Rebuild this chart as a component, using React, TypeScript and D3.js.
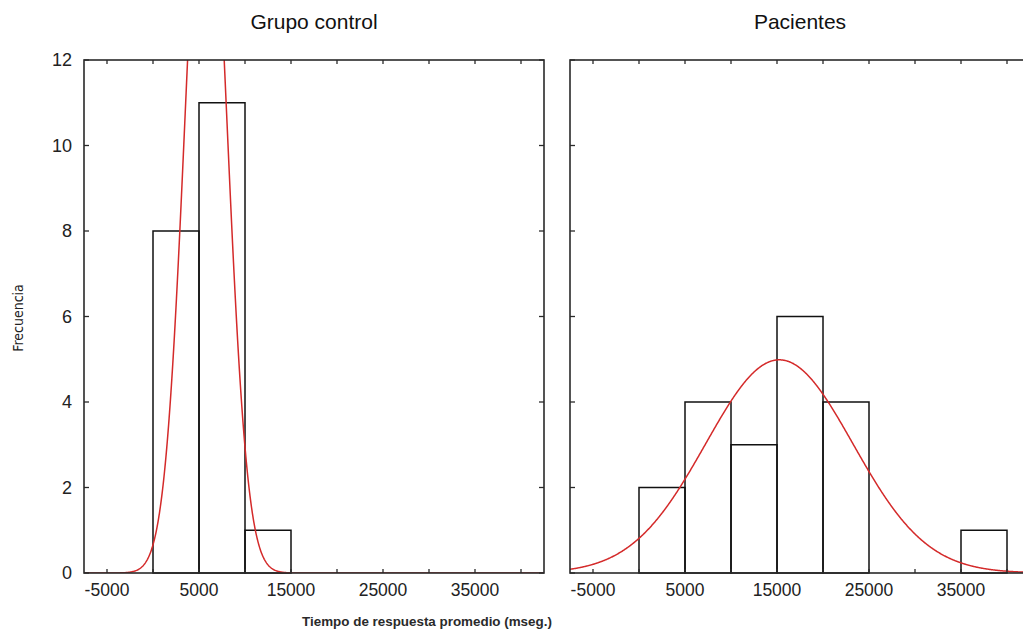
import React from "react";
import * as d3 from "d3";

const W = 1023;
const H = 639;

const binStarts = [0, 5000, 10000, 15000, 20000, 25000, 30000, 35000];
const binWidth = 5000;
const controlCounts = [8, 11, 1, 0, 0, 0, 0, 0];
const patientCounts = [2, 4, 3, 6, 4, 0, 0, 1];
const controlMean = 5750;
const controlSd = 2240;
const patientMean = 15250;
const patientSd = 8000;
const nPerGroup = 20;

const xTickValues = [-5000, 0, 5000, 10000, 15000, 20000, 25000, 30000, 35000, 40000];
const xLabelValues = [-5000, 5000, 15000, 25000, 35000];
const yTickValues = [0, 2, 4, 6, 8, 10, 12];

const titles = ["Grupo control", "Pacientes"];
const xTitle = "Tiempo de respuesta promedio (mseg.)";
const yTitle = "Frecuencia";

const panelLefts = [84, 570];
const panelWidth = 460;
const top = 60;
const bottom = 573;
const FONT = "Liberation Sans, Arial, sans-serif";

function Panel({ idx, counts, mean, sd }: { idx: number; counts: number[]; mean: number; sd: number }) {
  const left = panelLefts[idx];
  const x = d3.scaleLinear().domain([-7500, 42500]).range([left, left + panelWidth]);
  const y = d3.scaleLinear().domain([0, 12]).range([bottom, top]);
  const pts: [number, number][] = [];
  for (let v = -7500; v <= 42500; v += 50) {
    const dens = (nPerGroup * binWidth) / (sd * Math.sqrt(2 * Math.PI)) * Math.exp(-((v - mean) ** 2) / (2 * sd * sd));
    pts.push([v, dens]);
  }
  const line = d3.line<[number, number]>().x((d) => x(d[0])).y((d) => y(d[1]));
  const clipId = `clip${idx}`;
  const frame = "#2a2a2a";
  const right = left + panelWidth;
  return (
    <g>
      <defs>
        <clipPath id={clipId}>
          <rect x={left} y={top} width={panelWidth} height={bottom - top} />
        </clipPath>
      </defs>
      {binStarts.map((b, i) =>
        counts[i] > 0 ? (
          <rect key={i} x={x(b)} y={y(counts[i])} width={x(b + binWidth) - x(b)} height={y(0) - y(counts[i])} fill="none" stroke="#111" strokeWidth={1.5} />
        ) : null
      )}
      <path d={line(pts) || ""} fill="none" stroke="#d42a2a" strokeWidth={1.5} clipPath={`url(#${clipId})`} />
      <rect x={left} y={top} width={panelWidth} height={bottom - top} fill="none" stroke={frame} strokeWidth={1.6} />
      {xTickValues.map((v) => (
        <g key={v}>
          <line x1={x(v)} x2={x(v)} y1={bottom} y2={bottom - 4} stroke={frame} strokeWidth={1.3} />
          <line x1={x(v)} x2={x(v)} y1={top} y2={top + 4} stroke={frame} strokeWidth={1.3} />
        </g>
      ))}
      {yTickValues.map((v) => (
        <g key={v}>
          <line x1={left} x2={left + 5} y1={y(v)} y2={y(v)} stroke={frame} strokeWidth={1.3} />
          <line x1={right} x2={right - 5} y1={y(v)} y2={y(v)} stroke={frame} strokeWidth={1.3} />
        </g>
      ))}
      {xLabelValues.map((v) => (
        <text key={v} x={x(v)} y={bottom + 23} textAnchor="middle" fontSize={17.5} fill="#222" fontFamily={FONT}>
          {v}
        </text>
      ))}
      {idx === 0 &&
        yTickValues.map((v) => (
          <text key={v} x={72} y={y(v) + 6} textAnchor="end" fontSize={18} fill="#222" fontFamily={FONT}>
            {v}
          </text>
        ))}
      <text x={left + panelWidth / 2} y={29} textAnchor="middle" fontSize={21} fill="#111" fontFamily={FONT}>
        {titles[idx]}
      </text>
    </g>
  );
}

export default function App() {
  return (
    <svg width={W} height={H} style={{ position: "absolute", left: 0, top: 0, background: "#fff" }}>
      <rect x={0} y={0} width={W} height={H} fill="#fff" />
      <Panel idx={0} counts={controlCounts} mean={controlMean} sd={controlSd} />
      <Panel idx={1} counts={patientCounts} mean={patientMean} sd={patientSd} />
      <text transform={`translate(23,318) rotate(-90)`} textAnchor="middle" fontSize={14} fill="#222" fontFamily="Liberation Sans Narrow, DejaVu Sans Condensed, sans-serif">
        {yTitle}
      </text>
      <text x={427} y={626} textAnchor="middle" fontSize={13.4} fontWeight="bold" fill="#2a2a2a" fontFamily={FONT}>
        {xTitle}
      </text>
    </svg>
  );
}
